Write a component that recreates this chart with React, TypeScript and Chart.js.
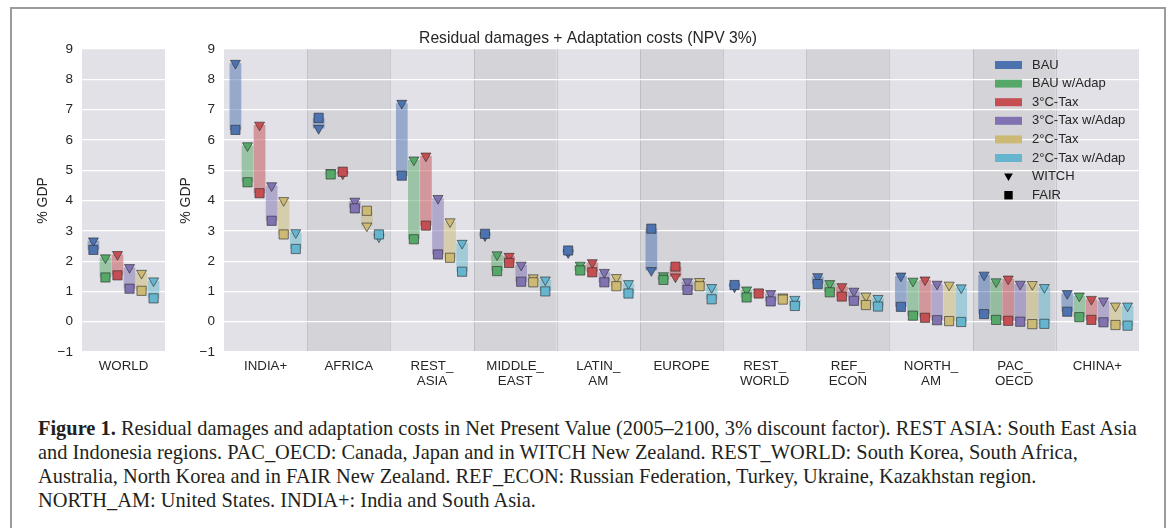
import React, { useEffect, useRef } from 'react';
import { Chart, registerables } from 'chart.js';
Chart.register(...registerables);

// ---------- data ----------
const worldLabels = ['WORLD'];
const regionLabels = [
  ['INDIA+'], ['AFRICA'], ['REST_', 'ASIA'], ['MIDDLE_', 'EAST'], ['LATIN_', 'AM'], ['EUROPE'],
  ['REST_', 'WORLD'], ['REF_', 'ECON'], ['NORTH_', 'AM'], ['PAC_', 'OECD'], ['CHINA+'],
];
const scenarios = ['BAU', 'BAU w/Adap', '3°C-Tax', '3°C-Tax w/Adap', '2°C-Tax', '2°C-Tax w/Adap'];
const scenarioColors = ['#4C72B0', '#55A868', '#C44E52', '#8172B2', '#CCB974', '#64B5CD'];
const models = ['WITCH', 'FAIR'];
const yMin = -1;
const yMax = 9;
const yStep = 1;
const chartTitle = 'Residual damages + Adaptation costs (NPV 3%)';
const yTitle = '% GDP';

// WORLD: one value per scenario
const worldWitch = [2.67, 2.11, 2.22, 1.79, 1.60, 1.35];
const worldFair = [2.37, 1.46, 1.53, 1.09, 1.02, 0.77];

// Regions: one value per region (INDIA+ ... CHINA+)
const witchBAU = [8.53, 6.38, 7.21, 2.84, 2.28, 1.69, 1.15, 1.49, 1.51, 1.54, 0.93];
const fairBAU = [6.33, 6.73, 4.82, 2.90, 2.35, 3.07, 1.21, 1.24, 0.49, 0.25, 0.33];
const witchBAUAdap = [5.81, 4.92, 5.34, 2.21, 1.87, 1.52, 1.05, 1.26, 1.34, 1.32, 0.85];
const fairBAUAdap = [4.60, 4.86, 2.72, 1.67, 1.69, 1.38, 0.80, 0.97, 0.20, 0.06, 0.15];
const witch3C = [6.49, 4.88, 5.47, 2.16, 1.95, 1.48, 0.97, 1.16, 1.38, 1.41, 0.74];
const fair3C = [4.24, 4.95, 3.17, 1.94, 1.63, 1.82, 0.93, 0.83, 0.13, 0.03, 0.06];
const witch3CAdap = [4.49, 3.98, 4.07, 1.87, 1.63, 1.32, 0.93, 1.01, 1.24, 1.24, 0.69];
const fair3CAdap = [3.33, 3.74, 2.22, 1.32, 1.30, 1.05, 0.67, 0.69, 0.05, 0.00, -0.02];
const witch2C = [4.00, 3.16, 3.30, 1.45, 1.46, 1.33, 0.82, 0.85, 1.21, 1.23, 0.52];
const fair2C = [2.88, 3.66, 2.11, 1.30, 1.17, 1.17, 0.73, 0.55, 0.02, -0.08, -0.11];
const witch2CAdap = [2.94, 2.80, 2.59, 1.38, 1.26, 1.13, 0.74, 0.77, 1.12, 1.13, 0.52];
const fair2CAdap = [2.40, 2.88, 1.65, 1.00, 0.93, 0.74, 0.52, 0.50, -0.01, -0.07, -0.13];

const regionWitch = [witchBAU, witchBAUAdap, witch3C, witch3CAdap, witch2C, witch2CAdap];
const regionFair = [fairBAU, fairBAUAdap, fair3C, fair3CAdap, fair2C, fair2CAdap];

const captionLines = [
  'Residual damages and adaptation costs in Net Present Value (2005–2100, 3% discount factor). REST ASIA: South East Asia',
  'and Indonesia regions. PAC_OECD: Canada, Japan and in WITCH New Zealand. REST_WORLD: South Korea, South Africa,',
  'Australia, North Korea and in FAIR New Zealand. REF_ECON: Russian Federation, Turkey, Ukraine, Kazakhstan region.',
  'NORTH_AM: United States. INDIA+: India and South Asia.',
];

// ---------- styling ----------
const FONT = '"Liberation Sans", Arial, sans-serif';
const TEXT = '#262626';
const BG_LIGHT = '#e1e1e7';
const BG_DARK = '#d3d3d8';
const CAT_PCT = 0.87;
const FIG = { left: 10, top: 7, right: 1166 };
const MAIN_LEFT = 170;
const TOP = 20;
const EDGE = 'rgba(40,40,40,0.75)';

function hexA(hex: string, a: number) {
  const n = parseInt(hex.slice(1), 16);
  return `rgba(${(n >> 16) & 255},${(n >> 8) & 255},${n & 255},${a})`;
}

function triangleDown(ctx: CanvasRenderingContext2D, x: number, y: number, r: number) {
  const hw = r * Math.sin(Math.PI / 3);
  ctx.beginPath();
  ctx.moveTo(x - hw, y - r / 2);
  ctx.lineTo(x + hw, y - r / 2);
  ctx.lineTo(x, y + r);
  ctx.closePath();
}

const bandsPlugin = {
  id: 'bands',
  beforeDraw(chart: any, _args: any, opts: any) {
    const { ctx, chartArea: a, scales } = chart;
    const xs = scales.x;
    const n = chart.data.labels.length;
    ctx.save();
    const edges: number[] = [];
    for (let i = 0; i <= n; i++) {
      if (i === 0) edges.push(a.left);
      else if (i === n) edges.push(a.right);
      else edges.push((xs.getPixelForValue(i - 1) + xs.getPixelForValue(i)) / 2);
    }
    for (let i = 0; i < n; i++) {
      ctx.fillStyle = opts.alternate && i % 2 === 1 ? BG_DARK : BG_LIGHT;
      ctx.fillRect(edges[i], a.top, edges[i + 1] - edges[i], a.bottom - a.top);
    }
    ctx.strokeStyle = 'rgba(150,150,160,0.35)';
    ctx.lineWidth = 1;
    for (let i = 1; i < n; i++) {
      ctx.beginPath();
      ctx.moveTo(Math.round(edges[i]) + 0.5, a.top);
      ctx.lineTo(Math.round(edges[i]) + 0.5, a.bottom);
      ctx.stroke();
    }
    ctx.restore();
  },
};

const titlePlugin = {
  id: 'figTitle',
  afterDraw(chart: any, _args: any, opts: any) {
    if (!opts.text) return;
    const { ctx } = chart;
    ctx.save();
    ctx.font = `15.7px ${FONT}`;
    ctx.fillStyle = TEXT;
    ctx.textAlign = 'center';
    ctx.textBaseline = 'middle';
    ctx.fillText(opts.text, opts.x, opts.y);
    ctx.restore();
  },
};

const legendPlugin = {
  id: 'insideLegend',
  afterDraw(chart: any, _args: any, opts: any) {
    if (!opts.show) return;
    const { ctx, chartArea: a } = chart;
    const x0 = a.right - 144;
    const tx = a.right - 107;
    let y = a.top + 16;
    const dy = 18.6;
    ctx.save();
    ctx.font = `13px ${FONT}`;
    ctx.textBaseline = 'middle';
    ctx.textAlign = 'left';
    scenarios.forEach((s, i) => {
      ctx.fillStyle = scenarioColors[i];
      ctx.fillRect(x0, y - 4, 27, 8);
      ctx.fillStyle = TEXT;
      ctx.fillText(s, tx, y);
      y += dy;
    });
    const cx = x0 + 13.5;
    ctx.fillStyle = '#000';
    triangleDown(ctx, cx, y - 0.5, 5);
    ctx.fill();
    ctx.fillStyle = TEXT;
    ctx.fillText(models[0], tx, y);
    y += dy;
    ctx.fillStyle = '#000';
    ctx.fillRect(cx - 4.2, y - 4.2, 8.4, 8.4);
    ctx.fillStyle = TEXT;
    ctx.fillText(models[1], tx, y);
    ctx.restore();
  },
};

// WITCH (triangle) and FAIR (square) markers, placed on each bar's x and on the y scale
function makeMarkerPlugin(witch: number[][], fair: number[][]) {
  return {
    id: 'modelMarkers',
    afterDatasetsDraw(chart: any) {
      const { ctx } = chart;
      const ys = chart.scales.y;
      ctx.save();
      ctx.lineWidth = 0.8;
      ctx.strokeStyle = EDGE;
      witch.forEach((row, s) => {
        const meta = chart.getDatasetMeta(s);
        row.forEach((v, i) => {
          const el = meta.data[i];
          if (!el) return;
          ctx.fillStyle = scenarioColors[s];
          triangleDown(ctx, el.x, ys.getPixelForValue(v), 5.8);
          ctx.fill();
          ctx.stroke();
        });
      });
      fair.forEach((row, s) => {
        const meta = chart.getDatasetMeta(s);
        row.forEach((v, i) => {
          const el = meta.data[i];
          if (!el) return;
          const py = ys.getPixelForValue(v);
          ctx.fillStyle = scenarioColors[s];
          ctx.beginPath();
          ctx.rect(el.x - 4.6, py - 4.6, 9.2, 9.2);
          ctx.fill();
          ctx.stroke();
        });
      });
      ctx.restore();
    },
  };
}

function buildConfig(labels: any[], witch: number[][], fair: number[][], o: any) {
  const bars = scenarios.map((name, s) => ({
    label: name,
    data: witch[s].map((w, i) => [Math.min(w, fair[s][i]), Math.max(w, fair[s][i])]),
    backgroundColor: hexA(scenarioColors[s], 0.5),
    borderWidth: 0,
    categoryPercentage: CAT_PCT,
    barPercentage: 0.97,
  }));
  return {
    type: 'bar',
    data: { labels, datasets: bars },
    plugins: [bandsPlugin, makeMarkerPlugin(witch, fair), titlePlugin, legendPlugin],
    options: {
      animation: false,
      responsive: false,
      maintainAspectRatio: false,
      events: [],
      layout: { padding: { top: 29, right: o.padRight, left: 0, bottom: 0 } },
      plugins: {
        legend: { display: false },
        tooltip: { enabled: false },
        bands: { alternate: o.alternate },
        figTitle: o.title || {},
        insideLegend: { show: !!o.legend },
      },
      scales: {
        x: {
          type: 'category',
          offset: true,
          grid: { display: false, drawTicks: false },
          border: { display: false },
          ticks: { color: TEXT, font: { family: FONT, size: 13.3, lineHeight: 1.1 }, padding: 7, maxRotation: 0, autoSkip: false },
          afterFit: (s: any) => { s.height = 38; },
        },
        y: {
          type: 'linear',
          min: yMin,
          max: yMax,
          grid: { color: '#ffffff', lineWidth: 1.2, drawTicks: false },
          border: { display: false },
          ticks: {
            stepSize: yStep,
            color: TEXT,
            padding: 9,
            font: { family: FONT, size: 13.5 },
            callback: (v: number) => (v < 0 ? '\u2212' + Math.abs(v) : String(v)),
          },
          title: { display: true, text: yTitle, color: TEXT, font: { family: FONT, size: 14 }, padding: { top: o.titlePad, bottom: 0 } },
          afterFit: (s: any) => { s.width = o.yWidth; },
        },
      },
    },
  };
}

function ChartBox(props: { left: number; top: number; width: number; height: number; make: () => any }) {
  const ref = useRef<HTMLCanvasElement | null>(null);
  useEffect(() => {
    const c = new Chart(ref.current as HTMLCanvasElement, props.make());
    return () => c.destroy();
  }, []);
  return (
    <canvas
      ref={ref}
      width={props.width}
      height={props.height}
      style={{ position: 'absolute', left: props.left, top: props.top, width: props.width, height: props.height }}
    />
  );
}

export default function App() {
  const worldW = worldWitch.map((v) => [v]);
  const worldF = worldFair.map((v) => [v]);
  return (
    <div style={{ position: 'fixed', left: 0, top: 0, width: 1170, height: 528, background: '#fff', overflow: 'hidden' }}>
      <div
        style={{
          position: 'absolute', left: FIG.left, top: FIG.top, width: FIG.right - FIG.left, height: 600,
          border: '2px solid #9b9b9b', boxSizing: 'border-box',
        }}
      />
      <ChartBox
        left={20}
        top={TOP}
        width={150}
        height={370}
        make={() => buildConfig(worldLabels, worldW, worldF, { padRight: 5, yWidth: 62, titlePad: 14.6, alternate: false })}
      />
      <ChartBox
        left={MAIN_LEFT}
        top={TOP}
        width={995}
        height={370}
        make={() =>
          buildConfig(regionLabels, regionWitch, regionFair, {
            padRight: 26,
            yWidth: 54,
            titlePad: 7.6,
            alternate: true,
            legend: true,
            title: { text: chartTitle, x: (FIG.left + FIG.right) / 2 - MAIN_LEFT, y: 39 - TOP },
          })
        }
      />
      <div
        style={{
          position: 'absolute', left: 38, top: 416, fontFamily: '"Liberation Serif", "Times New Roman", serif',
          fontSize: 20.4, lineHeight: '24px', color: '#231f20', whiteSpace: 'nowrap',
        }}
      >
        <b>Figure 1.</b> {captionLines[0]}
        <br />
        {captionLines[1]}
        <br />
        {captionLines[2]}
        <br />
        {captionLines[3]}
      </div>
    </div>
  );
}
